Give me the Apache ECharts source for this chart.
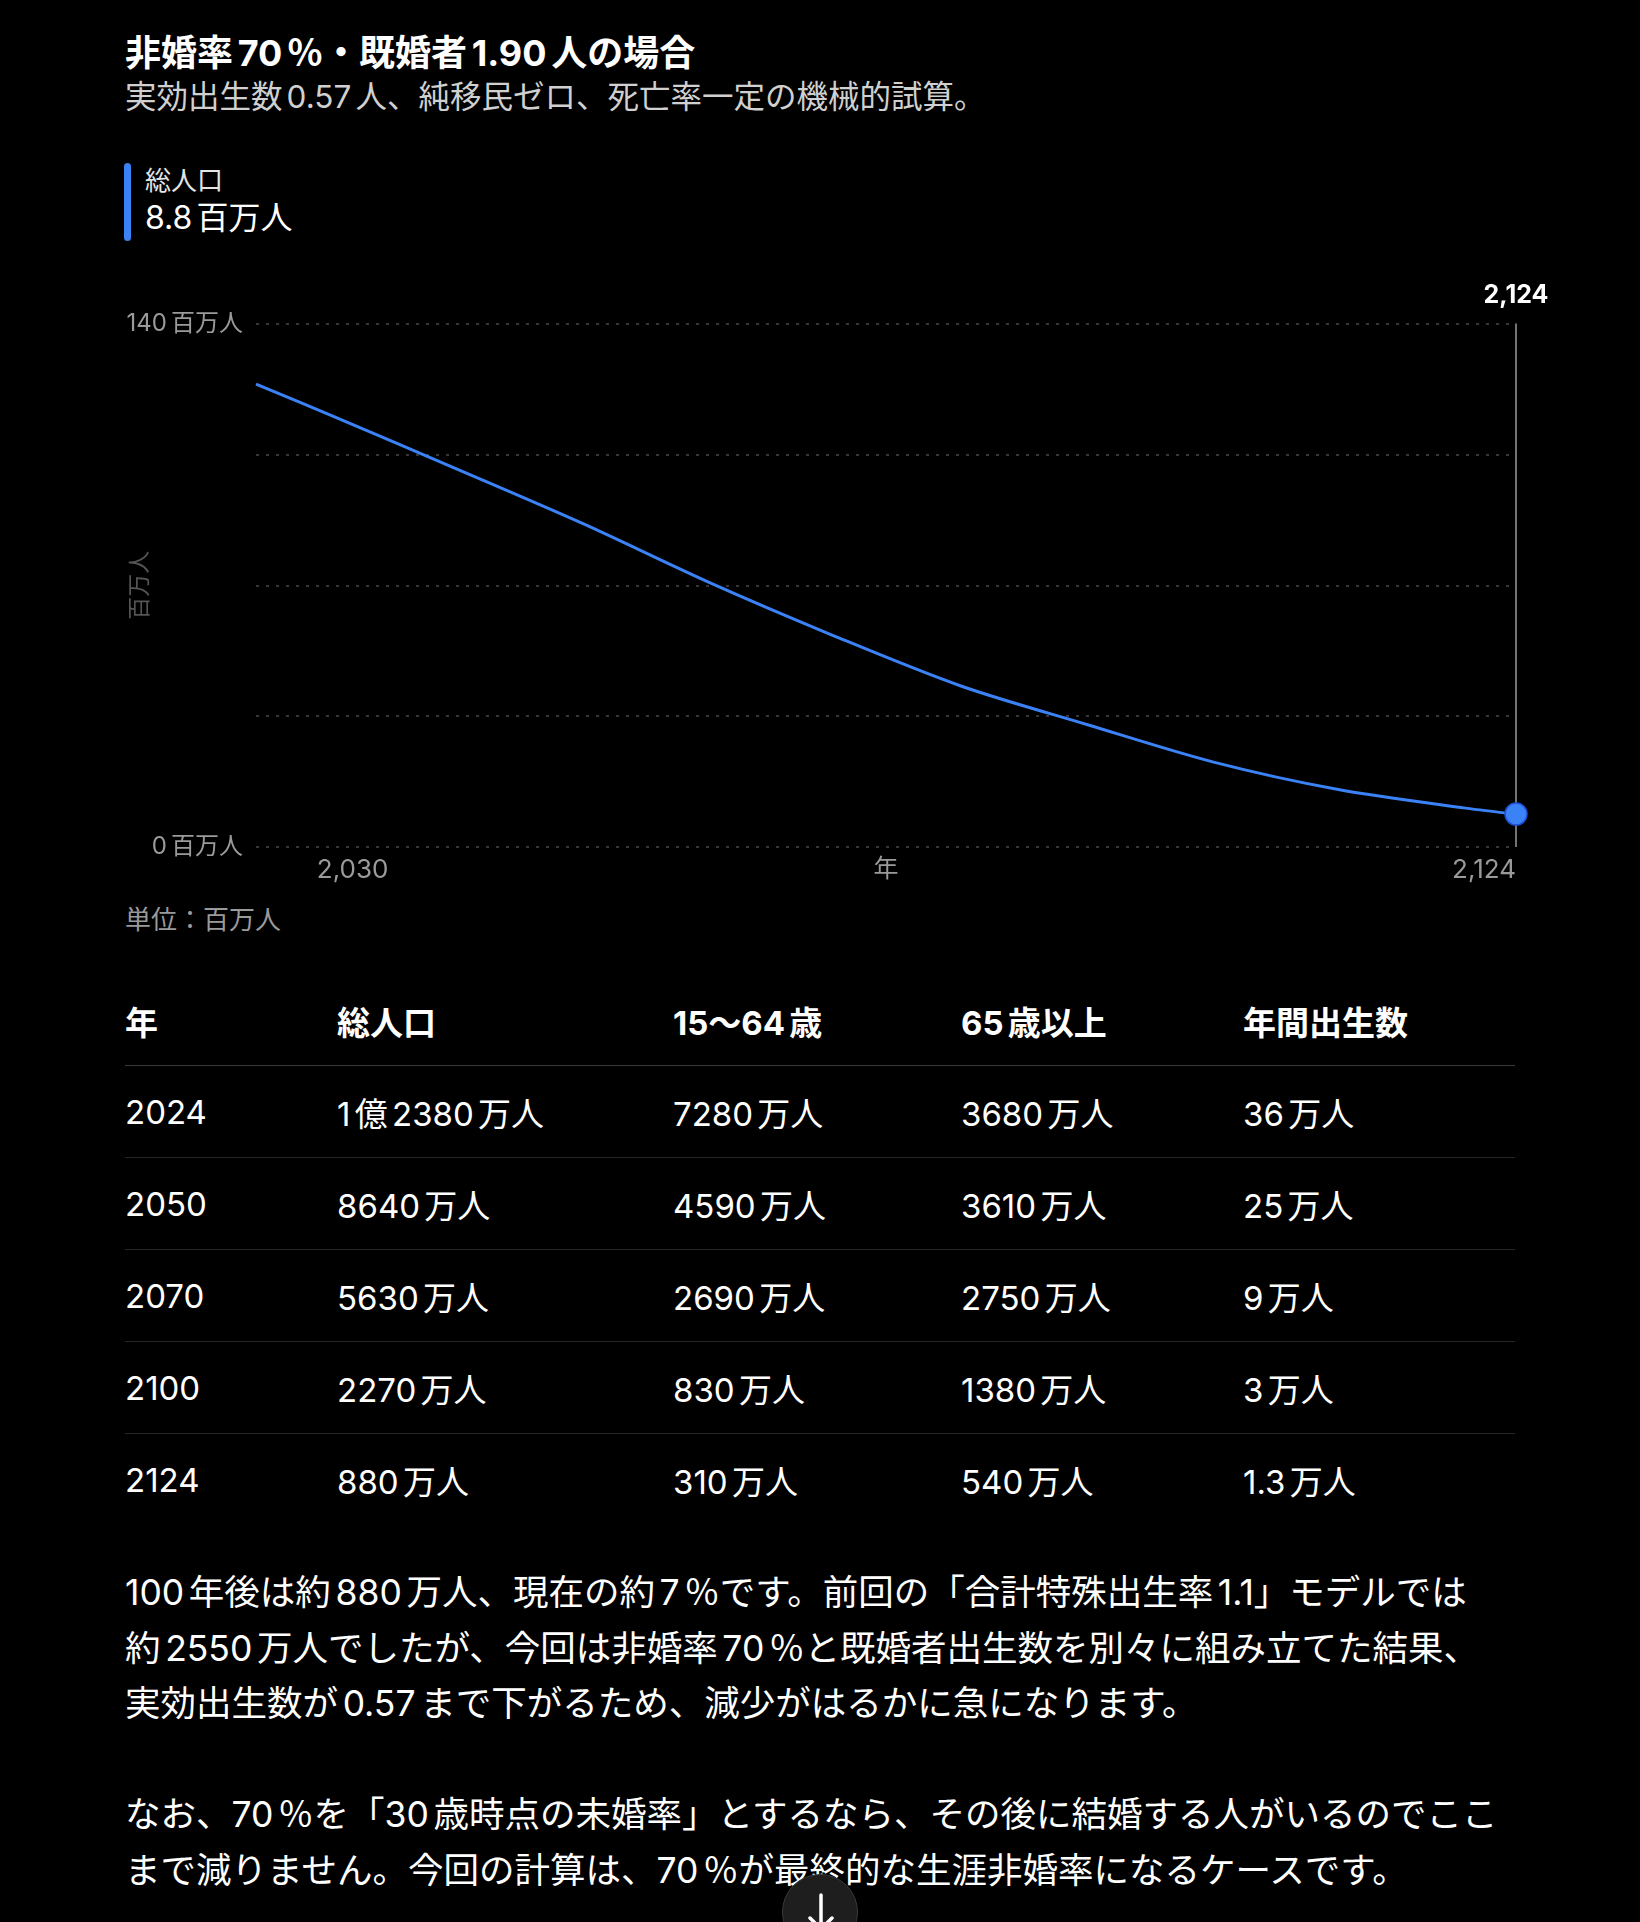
<!DOCTYPE html>
<html lang="ja">
<head>
<meta charset="utf-8">
<script src="https://cdn.jsdelivr.net/npm/echarts@6/dist/echarts.min.js"></script>
<style>
  html, body { margin: 0; padding: 0; background: #000; }
  body {
    width: 1640px; height: 1922px; position: relative; overflow: hidden;
    font-family: Inter, "Noto Sans CJK JP", sans-serif; color: #fff;
  }
  .abs { position: absolute; white-space: nowrap; }
  .g { display: inline-block; width: 0.13em; }
  #title { left: 125px; top: 32px; font-size: 36px; line-height: 42px; font-weight: 700; }
  #sub { left: 125px; top: 79px; font-size: 31.5px; line-height: 36px; color: #d0d0d0; }
  #bar { left: 124px; top: 163px; width: 7px; height: 78px; border-radius: 3.5px; background: #3b82f6; }
  #kpiLabel { left: 145px; top: 166px; font-size: 26px; line-height: 30px; color: #e5e5e5; }
  #kpiValue { left: 145px; top: 200px; font-size: 32px; line-height: 36px; font-weight: 400; }
  #chart { left: 0; top: 260px; width: 1640px; height: 640px; }
  #unit { left: 125px; top: 905px; font-size: 26px; line-height: 30px; color: #9a9a9a; }
  #tbl { left: 125px; top: 976px; width: 1390px; border-collapse: collapse; font-size: 33px; }
  #tbl th, #tbl td { text-align: left; padding: 0; white-space: nowrap; }
  #tbl th { height: 89px; font-weight: 700; border-bottom: 1px solid #3a3a3a; }
  #tbl td { height: 91px; border-bottom: 1px solid #262626; }
  #tbl tr:last-child td { border-bottom: none; }
  #note { left: 125px; top: 1565px; font-size: 35.5px; line-height: 55.5px; }
  #note p { margin: 0 0 55.5px 0; }
  #down { left: 782px; top: 1874px; width: 76px; height: 76px; border-radius: 50%;
    background: #1e1e1e; border: 1px solid #3a3a3a; box-sizing: border-box; }
  #down svg { position: absolute; left: 22px; top: 16px; }
</style>
</head>
<body>
<div id="title" class="abs sp">非婚率70％・既婚者1.90人の場合</div>
<div id="sub" class="abs sp">実効出生数0.57人、純移民ゼロ、死亡率一定の機械的試算。</div>
<div id="bar" class="abs"></div>
<div id="kpiLabel" class="abs">総人口</div>
<div id="kpiValue" class="abs sp">8.8百万人</div>
<div id="chart" class="abs"></div>
<div id="unit" class="abs">単位：百万人</div>
<table id="tbl" class="abs sp"></table>
<div id="note" class="abs sp">
  <p>100年後は約880万人、現在の約7％です。前回の「合計特殊出生率1.1」モデルでは<br>約2550万人でしたが、今回は非婚率70％と既婚者出生数を別々に組み立てた結果、<br>実効出生数が0.57まで下がるため、減少がはるかに急になります。</p>
  <p>なお、70％を「30歳時点の未婚率」とするなら、その後に結婚する人がいるのでここ<br>まで減りません。今回の計算は、70％が最終的な生涯非婚率になるケースです。</p>
</div>
<div id="down" class="abs">
  <svg width="32" height="44" viewBox="0 0 32 44"><path d="M16 4 V38 M5 27 L16 38 L27 27" stroke="#fff" stroke-width="3.5" fill="none" stroke-linecap="round" stroke-linejoin="round"/></svg>
</div>
<script>
// population curve (millions)
const years = [2024, 2030, 2040, 2050, 2060, 2070, 2080, 2090, 2100, 2110, 2120, 2124];
const totalPop = [123.8, 115.4, 101.0, 86.4, 70.7, 56.3, 43.0, 32.7, 22.7, 15.3, 10.4, 8.8];
const xTickYears = [2030, 2124];
const yTicksShown = [0, 140];

// table
const tableHead = ['年', '総人口', '15〜64歳', '65歳以上', '年間出生数'];
const tableYears = ['2024', '2050', '2070', '2100', '2124'];
const tableTotal = ['1億2380万人', '8640万人', '5630万人', '2270万人', '880万人'];
const tableWorking = ['7280万人', '4590万人', '2690万人', '830万人', '310万人'];
const tableElderly = ['3680万人', '3610万人', '2750万人', '1380万人', '540万人'];
const tableBirths = ['36万人', '25万人', '9万人', '3万人', '1.3万人'];

const colWidths = [212, 336, 288, 282, 272];
let html = '<tr>' + tableHead.map((h, i) => '<th style="width:' + colWidths[i] + 'px">' + h + '</th>').join('') + '</tr>';
tableYears.forEach((y, i) => {
  html += '<tr>' + [y, tableTotal[i], tableWorking[i], tableElderly[i], tableBirths[i]]
    .map((c) => '<td>' + c + '</td>').join('') + '</tr>';
});
document.getElementById('tbl').innerHTML = html;

// small gap between kanji/kana and latin digits, like the iOS text rendering
const ID = '[\\u3040-\\u30ff\\u3400-\\u9fff\\uff05]';
const AN = '[0-9A-Za-z]';
document.querySelectorAll('.sp').forEach((el) => {
  el.innerHTML = el.innerHTML
    .replace(new RegExp('(' + ID + ')(?=' + AN + ')', 'g'), '$1<span class="g"></span>')
    .replace(new RegExp('(' + AN + ')(?=' + ID + ')', 'g'), '$1<span class="g"></span>');
});

const font = 'Inter, "Noto Sans CJK JP", sans-serif';
const lastIdx = years.length - 1;
const seriesData = years.map((y, i) => {
  if (i === lastIdx) {
    return { value: [y, totalPop[i]], symbol: 'circle', symbolSize: 22 };
  }
  return [y, totalPop[i]];
});

const axisGrey = '#9a9a9a';
const chart = echarts.init(document.getElementById('chart'));
chart.setOption({
  animation: false,
  backgroundColor: 'transparent',
  textStyle: { fontFamily: font },
  grid: { left: 256, right: 124, top: 63.6, bottom: 53, containLabel: false, outerBoundsMode: 'none' },
  xAxis: {
    type: 'value',
    min: 2024,
    max: 2124,
    name: '年',
    nameLocation: 'middle',
    nameGap: 10,
    nameMoveOverlap: false,
    nameTextStyle: { color: axisGrey, fontSize: 25, fontFamily: font, verticalAlign: 'top' },
    axisLine: { show: false },
    axisTick: { show: false },
    splitLine: { show: false },
    axisLabel: {
      customValues: xTickYears,
      alignMaxLabel: 'right',
      margin: 10,
      color: axisGrey,
      fontSize: 26,
      fontFamily: font,
      formatter: (v) => {
        const s = v.toLocaleString('en-US');
        return v === xTickYears[0] ? '{s|' + s + '}' : s;
      },
      rich: {
        s: { padding: [0, 0, 0, 42], color: axisGrey, fontSize: 26, fontFamily: font }
      }
    }
  },
  yAxis: {
    type: 'value',
    min: 0,
    max: 140,
    interval: 35,
    name: '百万人',
    nameLocation: 'middle',
    nameGap: 104,
    nameMoveOverlap: false,
    nameTextStyle: { color: '#555', fontSize: 23, fontFamily: font },
    axisLine: { show: false },
    axisTick: { show: false },
    axisLabel: {
      margin: 13,
      color: axisGrey,
      fontSize: 24,
      fontFamily: font,
      formatter: (v) => (yTicksShown.includes(v) ? '{n|' + v + '}{u|百万人}' : ''),
      rich: {
        n: { color: axisGrey, fontSize: 24, fontFamily: font, padding: [0, 4, 0, 0] },
        u: { color: axisGrey, fontSize: 24, fontFamily: font }
      }
    },
    splitLine: { lineStyle: { color: '#4a4a4a', type: [3, 7], width: 1.5 } }
  },
  series: [{
    type: 'line',
    data: seriesData,
    smooth: 0.3,
    symbol: 'none',
    z: 5,
    lineStyle: { color: '#3b82f6', width: 3 },
    itemStyle: { color: '#3b82f6', borderColor: '#1d4ed8', borderWidth: 1.5 },
    markLine: {
      silent: true,
      symbol: ['none', 'none'],
      z: 1,
      lineStyle: { color: axisGrey, width: 1.5, type: 'solid' },
      label: {
        show: true,
        position: 'end',
        distance: 16,
        formatter: '2,124',
        color: '#fff',
        fontWeight: 'bold',
        fontSize: 25,
        fontFamily: font
      },
      data: [{ xAxis: 2124 }]
    }
  }]
});
</script>
</body>
</html>
